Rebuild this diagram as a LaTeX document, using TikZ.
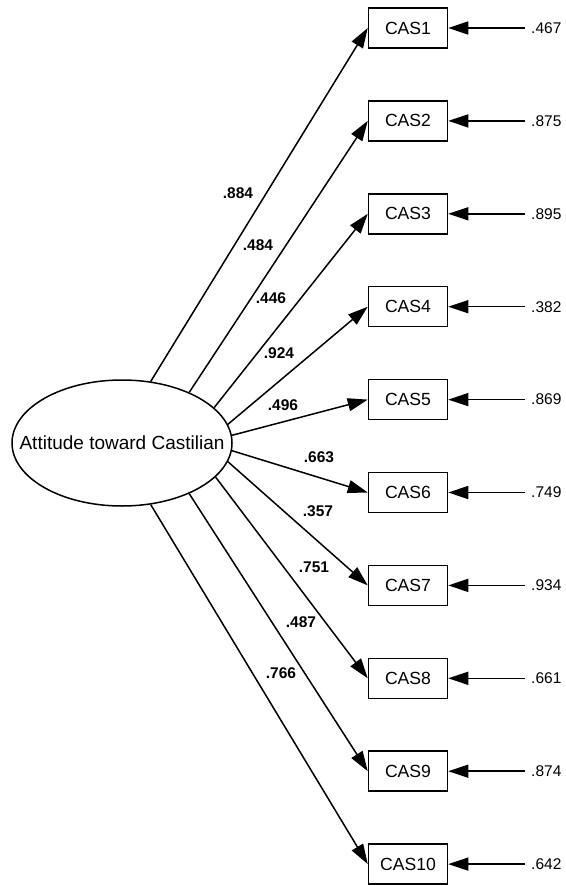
\documentclass[tikz,border=0pt]{standalone}
\usepackage{fontspec}
\setmainfont{Liberation Sans}
\usetikzlibrary{shapes.geometric,arrows.meta}
\tikzset{
  obs/.style={draw, line width=1.5pt, minimum width=79pt, minimum height=40pt, inner sep=0pt, font=\fontsize{17.6}{20}\selectfont},
  latent/.style={draw, ellipse, line width=1.5pt, minimum width=220pt, minimum height=126pt, inner sep=0pt},
  latlbl/.style={inner sep=0pt, font=\fontsize{19}{22}\selectfont},
  errlbl/.style={anchor=west, inner xsep=6pt, inner ysep=0pt, font=\fontsize{15.5}{18}\selectfont},
  loadlbl/.style={inner sep=0pt, font=\fontsize{15.5}{18}\selectfont\bfseries},
  path/.style={line width=1.5pt, -{Triangle[length=20pt,width=13pt]}}
}
\begin{document}
\begin{tikzpicture}[x=1pt,y=-1pt]
\useasboundingbox (0,0) rectangle (565,886);
\node[latent] (lat) at (122,443) {};
\node[latlbl] (latt) at (lat.center) {Attitude toward Castilian};
\foreach \i/\e/\a in {1/.467/65,2/.875/37,3/.895/21,4/.382/10,5/.869/4,6/.749/-4,7/.934/-10,8/.661/-20,9/.874/-37,10/.642/-65}{
  \pgfmathsetmacro{\yy}{28+(\i-1)*92.9}
  \node[obs] (c\i) at (408,\yy) {CAS\i};
  \node[errlbl] (e\i) at (525,\yy) {\e};
  \draw[path] (e\i) -- (c\i);
  \draw[path] (lat.\a) -- (c\i.west);
}
\node[loadlbl] (l1) at (238,193) {.884};
\node[loadlbl] (l2) at (258,245) {.484};
\node[loadlbl] (l3) at (271,298) {.446};
\node[loadlbl] (l4) at (279,353) {.924};
\node[loadlbl] (l5) at (283,405) {.496};
\node[loadlbl] (l6) at (319,457) {.663};
\node[loadlbl] (l7) at (318,511) {.357};
\node[loadlbl] (l8) at (314,567) {.751};
\node[loadlbl] (l9) at (301,622) {.487};
\node[loadlbl] (l10) at (281,673) {.766};
\end{tikzpicture}
\end{document}
